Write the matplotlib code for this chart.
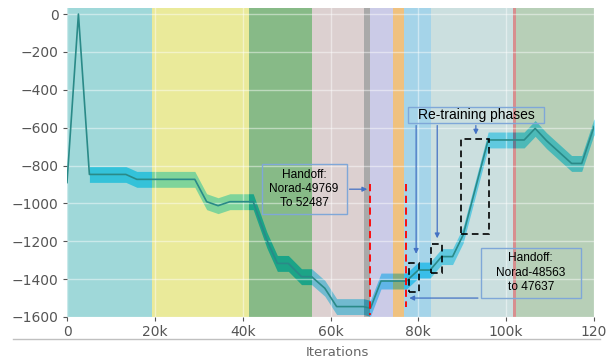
import matplotlib
matplotlib.use('Agg')
import matplotlib.pyplot as plt
from matplotlib.patches import Rectangle
from matplotlib.lines import Line2D
import numpy as np

# reward curve (iterations in thousands)
iters = [0, 2.6, 5.1, 13.4, 15.9, 29.1, 31.8, 34.4, 37.1, 42.4, 45.5, 47.9, 50.4,
         53.4, 55.7, 58.7, 61.4, 67.5, 69.1, 71.5, 77.3, 80.0, 82.7, 85.3, 87.8,
         90.2, 95.9, 104.1, 106.6, 109.2, 114.9, 117.2, 120]
reward = [-890, 0, -847, -847, -873, -873, -991, -1012, -991, -991, -1193, -1317,
          -1317, -1387, -1387, -1448, -1545, -1545, -1554, -1410, -1410, -1352,
          -1352, -1281, -1281, -1167, -665, -665, -604, -669, -789, -789, -595]
spread = 42
band_start = 2  # no spread shown for the first evaluations

# coloured phases behind the curve
phase_edges = [0, 19.3, 41.5, 55.9, 67.6, 69.1, 74.3, 76.7, 82.9, 101.6, 102.2, 120]
phase_colors = ['#41b3b5', '#d7d737', '#117711', '#bba3a3', '#555555', '#9999d1',
                '#e18500', '#4dabd5', '#99c1c1', '#b12121', '#71a171']

yticks = list(range(-1600, 1, 200))
xticks = [0, 20, 40, 60, 80, 100, 120]
xticklabels = ['0', '20k', '40k', '60k', '80k', '100k', '120']

fig = plt.figure(figsize=(6.06, 3.58), dpi=100)
ax = fig.add_axes([67/606, 1-317/358, 527/606, 309/358])

x = np.array(iters)
y = np.array(reward)
ax.fill_between(x[band_start:], y[band_start:] - spread, y[band_start:] + spread,
                color='#28d2ff', lw=0, zorder=1)
for i in range(len(phase_colors)):
    ax.axvspan(phase_edges[i], phase_edges[i+1], color=phase_colors[i], alpha=0.5, lw=0, zorder=2)
ax.plot(x, y, color='#2a8a88', lw=1.2, zorder=3)

ax.set_xlim(0, 120)
ax.set_ylim(-1600, 32)
ax.set_xticks(xticks)
ax.set_xticklabels(xticklabels)
ax.set_yticks(yticks)
ax.set_yticklabels([str(v).replace('-', '\u2212') for v in yticks])
ax.set_axisbelow(False)
ax.grid(color='white', alpha=0.45, lw=1)
ax.tick_params(colors='#555555', labelsize=10, length=3, width=0.8, pad=3)
for s in ax.spines.values():
    s.set_visible(False)

fig.text(337/606, 1-352/358, 'Iterations', ha='center', va='center', color='#666666', fontsize=9.5)
fig.add_artist(Line2D([13/606, 600/606], [1-339/358, 1-339/358], color='#c0c0c0', lw=1))

box_kw = dict(fill=False, ec='#7fa7d8', lw=1, zorder=5)
txt_kw = dict(ha='center', va='center', family='Liberation Sans', color='black', zorder=6)
arrow_kw = dict(arrowstyle='-|>', color='#4472c4', lw=0.9, mutation_scale=7)

# first handoff
ax.add_patch(Rectangle((44.3, -1056), 19.4, 264, **box_kw))
ax.text(54.0, -924, 'Handoff:\nNorad-49769\nTo 52487', fontsize=8.6, linespacing=1.25, **txt_kw)
ax.annotate('', xy=(69.0, -925), xytext=(63.7, -925), arrowprops=arrow_kw, zorder=6)
ax.plot([69.1, 69.1], [-900, -1590], color='red', ls=(0, (4, 2.5)), lw=1.3, zorder=6)

# re-training phases
ax.add_patch(Rectangle((77.7, -574), 31.0, 85, **box_kw))
ax.text(93.2, -531, 'Re-training phases', fontsize=10, **txt_kw)
for ax_x, ax_y in [(79.5, -1281), (84.3, -1199), (93.1, -651)]:
    ax.annotate('', xy=(ax_x, ax_y), xytext=(ax_x, -574), arrowprops=arrow_kw, zorder=6)
for x0, y0, w, h in [(77.9, -1466, 2.3, 153), (82.9, -1369, 2.5, 153), (89.8, -1163, 6.2, 503)]:
    ax.add_patch(Rectangle((x0, y0), w, h, fill=False, ec='black', lw=1.2,
                           ls=(0, (4, 2.5)), zorder=6))

# second handoff
ax.add_patch(Rectangle((94.2, -1498), 22.8, 264, **box_kw))
ax.text(105.6, -1366, 'Handoff:\nNorad-48563\nto 47637', fontsize=8.6, linespacing=1.25, **txt_kw)
ax.annotate('', xy=(77.3, -1500), xytext=(94.2, -1500), arrowprops=arrow_kw, zorder=6)
ax.plot([77.1, 77.1], [-900, -1545], color='red', ls=(0, (4, 2.5)), lw=1.3, zorder=6)

fig.savefig('out.png', dpi=100)
